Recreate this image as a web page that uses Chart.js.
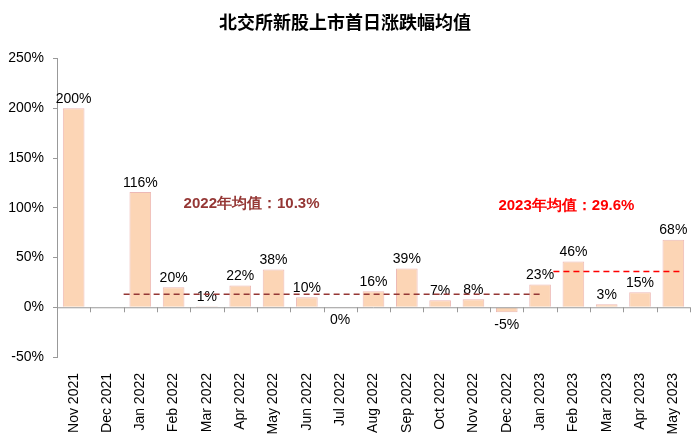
<!DOCTYPE html>
<html>
<head>
<meta charset="utf-8">
<script src="https://cdn.jsdelivr.net/npm/chart.js@4"></script>
<style>
  body { margin: 0; background: #fff; }
  #wrap { width: 700px; height: 437px; }
</style>
</head>
<body>
<div id="wrap"><canvas id="c"></canvas></div>
<script>
const months = ['Nov 2021', 'Dec 2021', 'Jan 2022', 'Feb 2022', 'Mar 2022', 'Apr 2022', 'May 2022',
  'Jun 2022', 'Jul 2022', 'Aug 2022', 'Sep 2022', 'Oct 2022', 'Nov 2022', 'Dec 2022',
  'Jan 2023', 'Feb 2023', 'Mar 2023', 'Apr 2023', 'May 2023'];
const firstDayReturn = [200, null, 116, 20, 1, 22, 38, 10, -0.3, 16, 39, 7, 8, -5, 23, 46, 3, 15, 68];
const shownLabels = ['200%', '', '116%', '20%', '1%', '22%', '38%', '10%', '0%', '16%', '39%', '7%', '8%', '-5%', '23%', '46%', '3%', '15%', '68%'];

// 均值虚线 (在图上的位置)
const avg2022 = { level: 13, from: 1.5, to: 14, text: '2022年均值：10.3%', color: '#953735' };
const avg2023 = { level: 36, from: 14.4, to: 18.25, text: '2023年均值：29.6%', color: '#FF0000' };

const extras = {
  id: 'extras',
  afterDatasetsDraw(chart) {
    const { ctx, scales: { x, y } } = chart;
    ctx.save();
    // 0% 轴线和刻度
    const y0 = y.getPixelForValue(0);
    ctx.strokeStyle = '#999';
    ctx.lineWidth = 1;
    ctx.beginPath();
    ctx.moveTo(x.left, y0 + 0.5);
    ctx.lineTo(x.right, y0 + 0.5);
    for (let i = 0; i <= months.length; i++) {
      const px = Math.round(x.getPixelForValue(i - 0.5)) + 0.5;
      ctx.moveTo(px, y0);
      ctx.lineTo(px, y0 + 5);
    }
    ctx.stroke();

    // 数据标签
    ctx.font = '14px "Liberation Sans", Arial, sans-serif';
    ctx.fillStyle = '#000';
    ctx.textAlign = 'center';
    const meta = chart.getDatasetMeta(0);
    firstDayReturn.forEach((v, i) => {
      if (v === null) return;
      const bar = meta.data[i];
      if (v > 0) {
        ctx.textBaseline = 'bottom';
        ctx.fillText(shownLabels[i], bar.x, bar.y - 2);
      } else {
        ctx.textBaseline = 'top';
        ctx.fillText(shownLabels[i], bar.x, Math.max(bar.y, y0) + 6);
      }
    });

    // 均值线
    [avg2022, avg2023].forEach(a => {
      const py = y.getPixelForValue(a.level);
      ctx.strokeStyle = a.color;
      ctx.lineWidth = 1.5;
      ctx.setLineDash([6, 4]);
      ctx.beginPath();
      ctx.moveTo(x.getPixelForValue(a.from), py);
      ctx.lineTo(x.getPixelForValue(a.to), py);
      ctx.stroke();
    });
    ctx.setLineDash([]);

    ctx.font = 'bold 15px "Liberation Sans", Arial, sans-serif';
    ctx.textBaseline = 'middle';
    ctx.textAlign = 'left';
    ctx.fillStyle = avg2022.color;
    ctx.fillText(avg2022.text, x.getPixelForValue(3.3), y.getPixelForValue(104));
    ctx.fillStyle = avg2023.color;
    ctx.fillText(avg2023.text, x.getPixelForValue(12.75), y.getPixelForValue(102));
    ctx.restore();
  }
};

new Chart(document.getElementById('c'), {
  type: 'bar',
  data: {
    labels: months,
    datasets: [{
      data: firstDayReturn,
      backgroundColor: '#FCD5B5',
      borderColor: '#EDB9B5',
      borderWidth: 1,
      categoryPercentage: 1,
      barPercentage: 0.65
    }]
  },
  options: {
    responsive: true,
    maintainAspectRatio: false,
    animation: false,
    layout: { padding: { top: 0, right: 10, left: 0, bottom: 0 } },
    plugins: {
      legend: { display: false },
      tooltip: { enabled: false },
      title: {
        display: true,
        text: '北交所新股上市首日涨跌幅均值',
        color: '#000',
        font: { size: 18, weight: 'bold', family: '"Noto Sans CJK SC", sans-serif' },
        padding: { top: 11, bottom: 26 }
      }
    },
    scales: {
      x: {
        grid: { display: false },
        border: { display: false },
        afterFit(scale) { scale.height = 80; },
        ticks: {
          color: '#000',
          maxRotation: 90,
          minRotation: 90,
          autoSkip: false,
          padding: 8,
          font: { size: 14, family: '"Liberation Sans", Arial, sans-serif' }
        }
      },
      y: {
        min: -50,
        max: 250,
        afterFit(scale) { scale.width = 57; },
        grid: { display: true, drawOnChartArea: false, tickLength: 4, color: '#999' },
        border: { display: true, color: '#999' },
        ticks: {
          stepSize: 50,
          color: '#000',
          padding: 9,
          callback: v => v + '%',
          font: { size: 14, family: '"Liberation Sans", Arial, sans-serif' }
        }
      }
    }
  },
  plugins: [extras]
});
</script>
</body>
</html>
